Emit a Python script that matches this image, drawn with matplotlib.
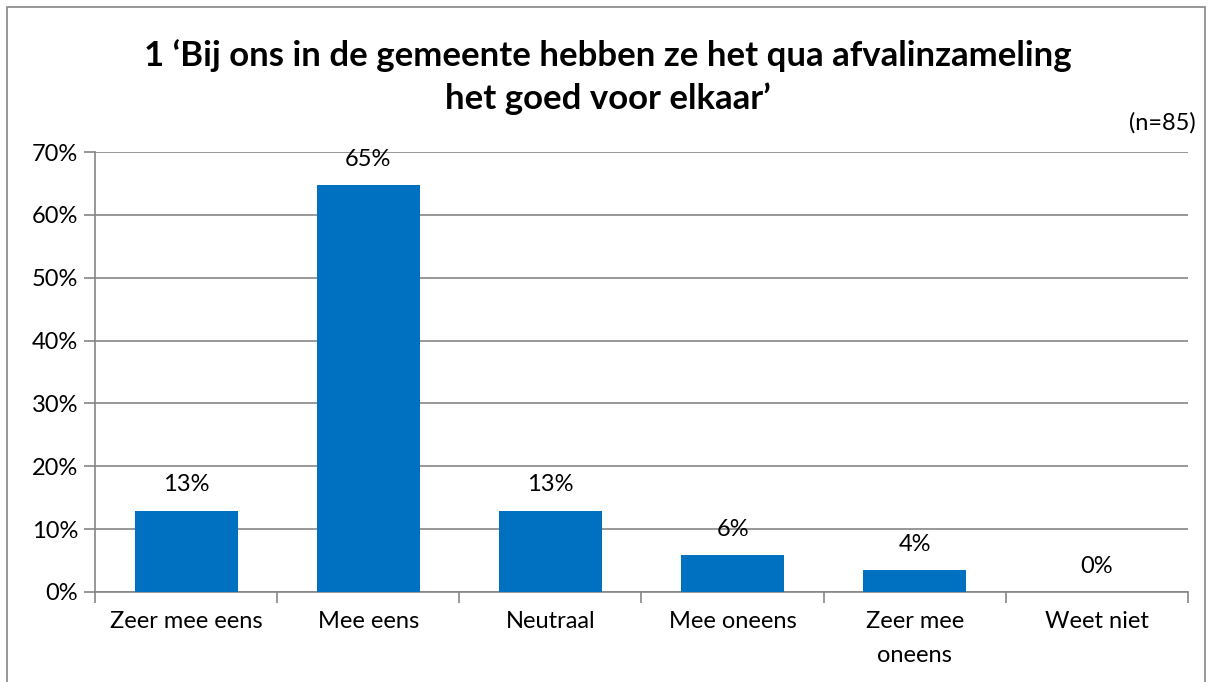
import matplotlib.pyplot as plt
from matplotlib.patches import Rectangle

# antwoordcategorieën en percentages (n=85)
categories = ['Zeer mee eens', 'Mee eens', 'Neutraal', 'Mee oneens', 'Zeer mee\noneens', 'Weet niet']
percentages = [12.94, 64.71, 12.94, 5.88, 3.53, 0.0]
labels = ['13%', '65%', '13%', '6%', '4%', '0%']
yticks = [0, 10, 20, 30, 40, 50, 60, 70]

plt.rcParams['font.family'] = ['Lato', 'DejaVu Sans']
grid_col = '#868686'
fs = 17

fig = plt.figure(figsize=(12.13, 6.82), dpi=100)
ax = fig.add_axes([0.0783, 0.132, 0.9011, 0.645])

# kader rond de grafiek
fig.patches.append(Rectangle((7 / 1213, -0.05), 1198 / 1213, 1.04, transform=fig.transFigure,
                             fill=False, edgecolor=grid_col, linewidth=1.2))

x = range(len(categories))
ax.bar(x, percentages, width=0.565, color='#0070C0', zorder=3)

for i, (v, lab) in enumerate(zip(percentages, labels)):
    ax.annotate(lab, (i, v), xytext=(0, 11), textcoords='offset points',
                ha='center', va='bottom', fontsize=fs)

ax.set_xlim(-0.5, len(categories) - 0.5)
ax.set_ylim(0, 70)
ax.set_yticks(yticks)
ax.set_yticklabels([f'{t}%' for t in yticks], fontsize=fs)
ax.yaxis.grid(True, color=grid_col, linewidth=1.2, zorder=0)
ax.tick_params(axis='y', length=8, width=1.2, color=grid_col, pad=4)

ax.set_xticks([i - 0.5 for i in range(len(categories) + 1)], minor=False)
ax.set_xticklabels([])
ax.set_xticks(list(x), minor=True)
ax.set_xticklabels(categories, minor=True, fontsize=fs, linespacing=1.75)
ax.tick_params(axis='x', which='minor', length=0, pad=14)
ax.tick_params(axis='x', which='major', length=8, width=1.2, color=grid_col)

for side in ['top', 'right']:
    ax.spines[side].set_visible(False)
for side in ['left', 'bottom']:
    ax.spines[side].set_color(grid_col)
    ax.spines[side].set_linewidth(1.2)

fig.text(0.501, 0.887, '1 \u2018Bij ons in de gemeente hebben ze het qua afvalinzameling\nhet goed voor elkaar\u2019',
         ha='center', va='center', fontsize=25, fontweight='bold', linespacing=1.38)
fig.text(0.986, 0.82, '(n=85)', ha='right', va='center', fontsize=fs)

fig.savefig('out.png', dpi=100)
